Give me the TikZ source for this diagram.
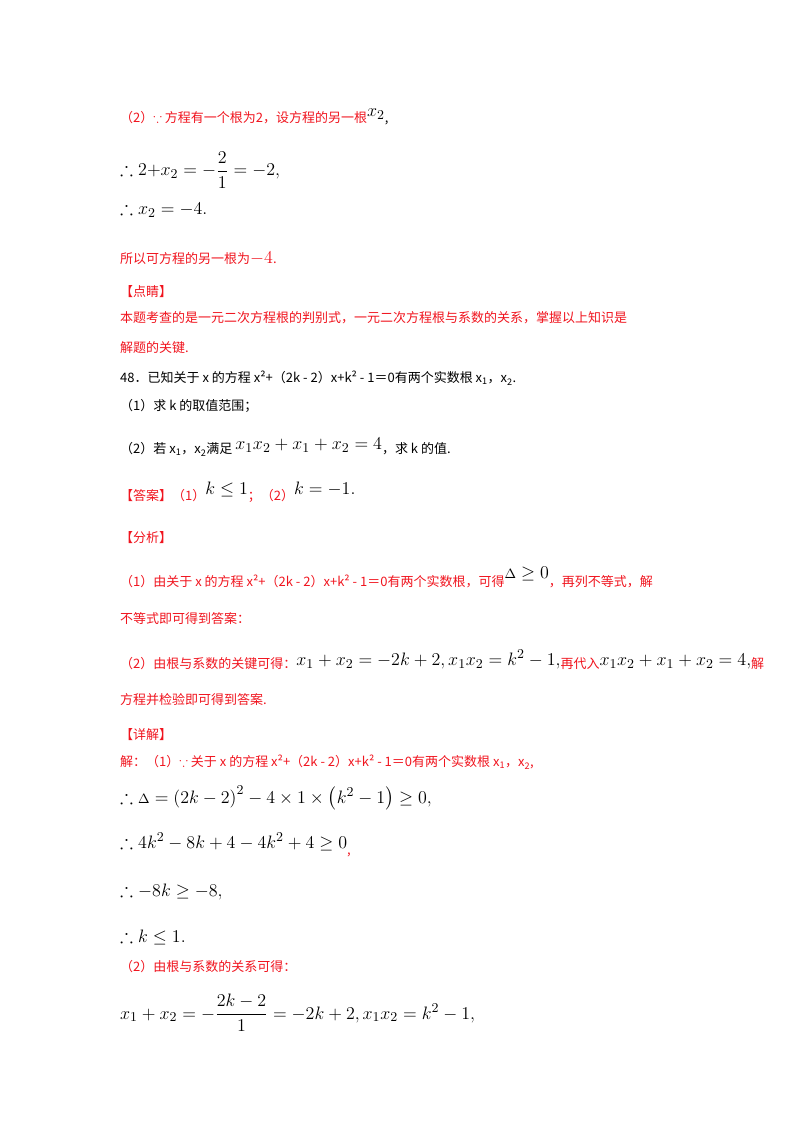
\documentclass[tikz,border=0pt]{standalone}
\usepackage{amsmath,amssymb}
\usepackage{fontspec}
\setmainfont{Noto Sans CJK SC}
\definecolor{rd}{RGB}{240,20,30}
\begin{document}
\begin{tikzpicture}[x=1pt,y=1pt,every node/.style={anchor=west,inner sep=0pt,font=\fontsize{13}{15}\selectfont}]
\useasboundingbox (0,0) rectangle (800,-1132);
\newcommand{\R}[1]{\textcolor{rd}{#1}}
\newcommand{\M}[1]{\scalebox{1.5}{$#1$}}
\newcommand{\xs}[1]{\textit{x}\textsubscript{#1}}
\node (l1) at (120,-117) {\R{（2）$\because$\ 方程有一个根为2，设方程的另一根}\raisebox{6pt}{\M{x_2}},};
\node (l2) at (120,-170) {\M{\therefore 2{+}x_2=-\dfrac{2}{1}=-2,}};
\node (l3) at (120,-209) {\M{\therefore x_2=-4.}};
\node (l4) at (120,-258) {\R{所以可方程的另一根为\M{-4}.}};
\node (l5) at (120,-292) {\R{【点睛】}};
\node (l6) at (120,-318) {\R{本题考查的是一元二次方程根的判别式，一元二次方程根与系数的关系，掌握以上知识是}};
\node (l7) at (120,-348) {\R{解题的关键.}};
\node (l8) at (120,-378) {48．已知关于 \textit{x} 的方程 \textit{x}²+（2\textit{k} - 2）\textit{x}+\textit{k}² - 1＝0有两个实数根 \xs{1}，\xs{2}.};
\node (l9) at (120,-406) {（1）求 \textit{k} 的取值范围；};
\node (l10) at (120,-447) {（2）若 \xs{1}，\xs{2}满足 \raisebox{4pt}{\M{x_1x_2+x_1+x_2=4}}，求 \textit{k} 的值.};
\node (l11) at (120,-492) {\R{【答案】（1）}\raisebox{6pt}{\M{k\le 1}}\R{；（2）}\raisebox{6pt}{\M{k=-1.}}};
\node (l12) at (120,-538) {\R{【分析】}};
\node (l13) at (120,-577) {\R{（1）由关于 \textit{x} 的方程 \textit{x}²+（2\textit{k} - 2）\textit{x}+\textit{k}² - 1＝0有两个实数根，可得}\raisebox{8pt}{\M{{\scriptstyle\Delta}\ge 0}}\R{，再列不等式，解}};
\node (l14) at (120,-619) {\R{不等式即可得到答案：}};
\node (l15) at (120,-660) {\R{（2）由根与系数的关键可得：}\raisebox{3pt}{\M{x_1+x_2=-2k+2,x_1x_2=k^2-1,}}\R{再代入}\raisebox{3pt}{\M{x_1x_2+x_1+x_2=4,}}\R{解}};
\node (l16) at (120,-700) {\R{方程并检验即可得到答案.}};
\node (l17) at (120,-735) {\R{【详解】}};
\node (l18) at (120,-762) {\R{解：（1）$\because$\ 关于 \textit{x} 的方程 \textit{x}²+（2\textit{k} - 2）\textit{x}+\textit{k}² - 1＝0有两个实数根 \xs{1}，\xs{2},}};
\node (l19) at (120,-798) {\M{\therefore{\scriptstyle\Delta}=\left(2k-2\right)^2-4\times1\times\left(k^2-1\right)\ge 0,}};
\node (l20) at (120,-845) {\M{\therefore 4k^2-8k+4-4k^2+4\ge 0}\raisebox{-6pt}{\R{,}}};
\node (l21) at (120,-891) {\M{\therefore -8k\ge -8,}};
\node (l22) at (120,-937) {\M{\therefore k\le 1.}};
\node (l23) at (120,-967) {\R{（2）由根与系数的关系可得：}};
\node (l24) at (120,-1013) {\M{x_1+x_2=-\dfrac{2k-2}{1}=-2k+2,x_1x_2=k^2-1,}};
\end{tikzpicture}
\end{document}
